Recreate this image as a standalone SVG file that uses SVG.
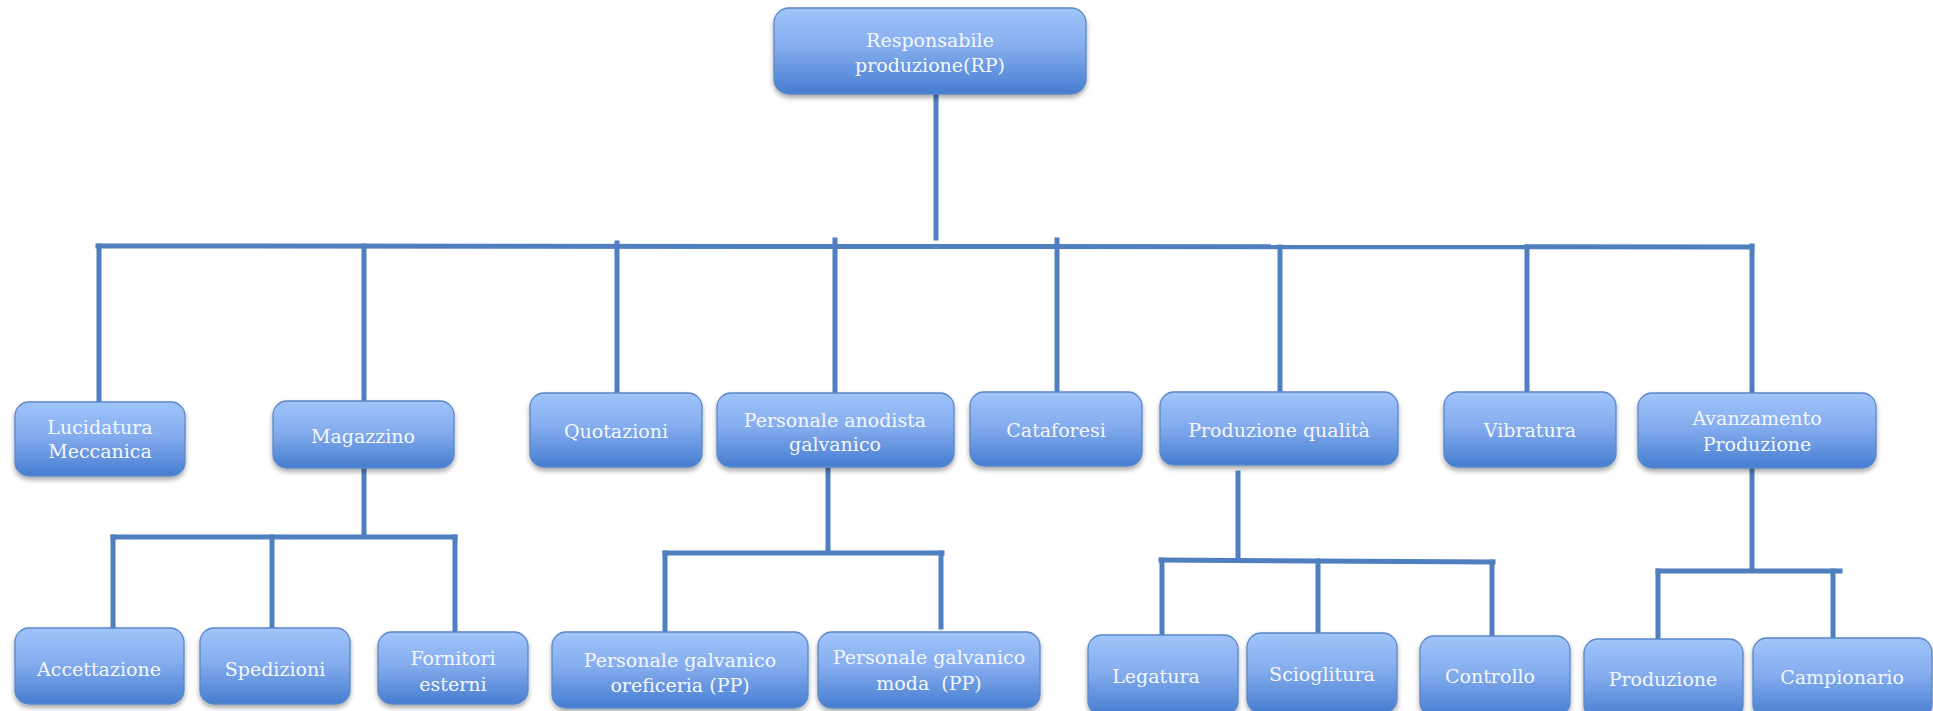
<svg xmlns="http://www.w3.org/2000/svg" width="1933" height="711" viewBox="0 0 1933 711">
<defs>
<linearGradient id="g" x1="0" y1="0" x2="0" y2="1">
<stop offset="0" stop-color="#a0c4fa"/>
<stop offset="0.45" stop-color="#85adee"/>
<stop offset="1" stop-color="#467dd0"/>
</linearGradient>
<filter id="sh" x="-10%" y="-10%" width="120%" height="130%">
<feDropShadow dx="0" dy="3" stdDeviation="2.5" flood-color="#000" flood-opacity="0.35"/>
</filter>
</defs>
<style>
.box{fill:url(#g);stroke:#5a88c9;stroke-width:1.3;filter:url(#sh)}
.t{font-family:"DejaVu Serif","Liberation Serif",serif;font-size:19px;fill:#f4f7fc;text-anchor:middle}
.c{stroke:#4f7fbe;stroke-width:5;fill:none;stroke-linecap:square}
</style>
<rect width="1933" height="711" fill="#ffffff"/>
<g id="connectors" class="c">
<path d="M936 96V238"/>
<path d="M98 246L1752 247"/>
<path d="M99 246V400"/>
<path d="M364 246V399"/>
<path d="M617 243V392"/>
<path d="M835 240V391"/>
<path d="M1057 240V390"/>
<path d="M1280 247V396"/>
<path d="M1527 247V390"/>
<path d="M1752 246V391"/>
<path d="M364 470V536"/>
<path d="M113 537H455"/>
<path d="M113 537V627"/>
<path d="M272 537V627"/>
<path d="M455 537V631"/>
<path d="M828 469V552"/>
<path d="M665 553H942"/>
<path d="M665 553V631"/>
<path d="M941 553V627"/>
<path d="M1238 473V557"/>
<path d="M1161 560L1493 562"/>
<path d="M1162 560V633"/>
<path d="M1318 561V632"/>
<path d="M1492 562V634"/>
<path d="M1752 470V570"/>
<path d="M1658 571H1840"/>
<path d="M1658 571V639"/>
<path d="M1833 571V636"/>
</g>
<g id="n-rp"><rect class="box" x="774" y="8" width="312" height="86" rx="15"/><text class="t" x="930" y="47">Responsabile</text><text class="t" x="930" y="72">produzione(RP)</text></g>
<g id="n-lucidatura"><rect class="box" x="15" y="402" width="170" height="74" rx="14"/><text class="t" x="100" y="434">Lucidatura</text><text class="t" x="100" y="458">Meccanica</text></g>
<g id="n-magazzino"><rect class="box" x="273" y="401" width="181" height="67" rx="14"/><text class="t" x="363" y="443">Magazzino</text></g>
<g id="n-quotazioni"><rect class="box" x="530" y="393" width="172" height="74" rx="14"/><text class="t" x="616" y="438">Quotazioni</text></g>
<g id="n-anodista"><rect class="box" x="717" y="393" width="237" height="74" rx="14"/><text class="t" x="835" y="427">Personale anodista</text><text class="t" x="835" y="451">galvanico</text></g>
<g id="n-cataforesi"><rect class="box" x="970" y="392" width="172" height="74" rx="14"/><text class="t" x="1056" y="437">Cataforesi</text></g>
<g id="n-qualita"><rect class="box" x="1160" y="392" width="238" height="73" rx="14"/><text class="t" x="1279" y="437">Produzione qualità</text></g>
<g id="n-vibratura"><rect class="box" x="1444" y="392" width="172" height="75" rx="14"/><text class="t" x="1530" y="437">Vibratura</text></g>
<g id="n-avanzamento"><rect class="box" x="1638" y="393" width="238" height="75" rx="14"/><text class="t" x="1757" y="425">Avanzamento</text><text class="t" x="1757" y="451">Produzione</text></g>
<g id="n-accettazione"><rect class="box" x="15" y="628" width="169" height="76" rx="14"/><text class="t" x="99" y="676">Accettazione</text></g>
<g id="n-spedizioni"><rect class="box" x="200" y="628" width="150" height="76" rx="14"/><text class="t" x="275" y="676">Spedizioni</text></g>
<g id="n-fornitori"><rect class="box" x="378" y="632" width="150" height="72" rx="14"/><text class="t" x="453" y="665">Fornitori</text><text class="t" x="453" y="691">esterni</text></g>
<g id="n-oreficeria"><rect class="box" x="552" y="632" width="256" height="76" rx="14"/><text class="t" x="680" y="667">Personale galvanico</text><text class="t" x="680" y="692">oreficeria (PP)</text></g>
<g id="n-moda"><rect class="box" x="818" y="632" width="222" height="76" rx="14"/><text class="t" x="929" y="664">Personale galvanico</text><text class="t" x="929" y="690" xml:space="preserve" style="white-space:pre">moda  (PP)</text></g>
<g id="n-legatura"><rect class="box" x="1088" y="635" width="150" height="80" rx="14"/><text class="t" x="1156" y="683">Legatura</text></g>
<g id="n-scioglitura"><rect class="box" x="1247" y="633" width="150" height="80" rx="14"/><text class="t" x="1322" y="681">Scioglitura</text></g>
<g id="n-controllo"><rect class="box" x="1420" y="636" width="150" height="80" rx="14"/><text class="t" x="1490" y="683">Controllo</text></g>
<g id="n-produzione"><rect class="box" x="1584" y="639" width="159" height="80" rx="14"/><text class="t" x="1663" y="686">Produzione</text></g>
<g id="n-campionario"><rect class="box" x="1753" y="638" width="179" height="80" rx="14"/><text class="t" x="1842" y="684">Campionario</text></g>
</svg>
